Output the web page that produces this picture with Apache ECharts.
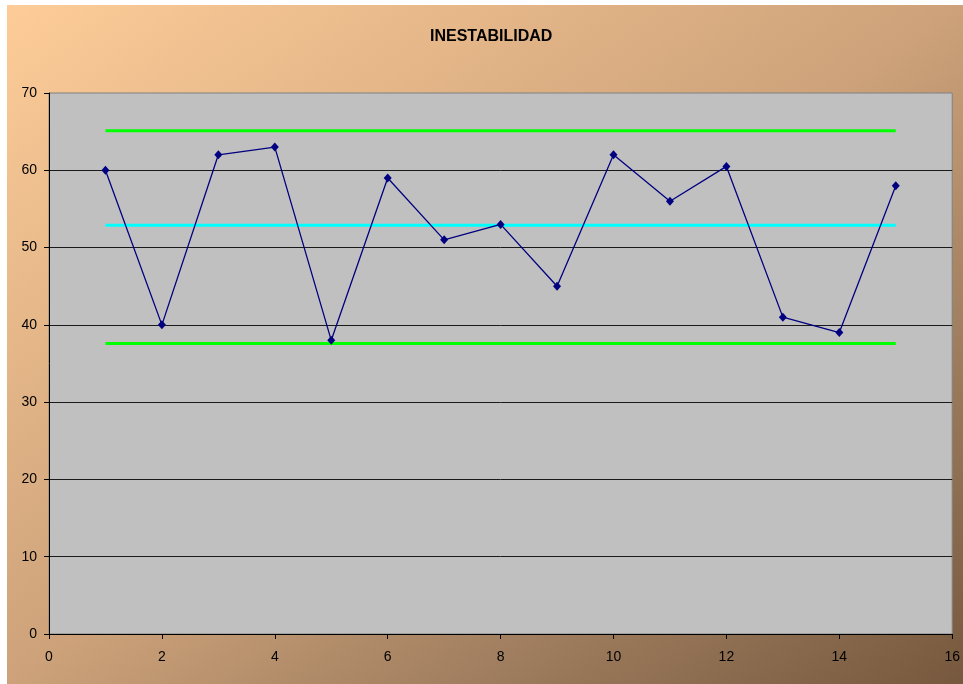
<!DOCTYPE html>
<html>
<head>
<meta charset="utf-8">
<script src="https://cdn.jsdelivr.net/npm/echarts@6/dist/echarts.min.js"></script>
<style>
  html, body { margin: 0; padding: 0; background: #ffffff; overflow: hidden; }
  #chart { position: absolute; left: 7px; top: 5px; width: 956px; height: 679px; }
</style>
</head>
<body>
<div id="chart"></div>
<script>
// Sample number and measured value
const samples = [1, 2, 3, 4, 5, 6, 7, 8, 9, 10, 11, 12, 13, 14, 15];
const values = [60, 40, 62, 63, 38, 59, 51, 53, 45, 62, 56, 60.5, 41, 39, 58];

// Control limits
const upperLimit = 65.1;
const centerLine = 52.9;
const lowerLimit = 37.6;

const xTicks = { min: 0, max: 16, interval: 2 };
const yTicks = { min: 0, max: 70, interval: 10 };

const chart = echarts.init(document.getElementById('chart'), null, { renderer: 'canvas' });

const firstX = samples[0];
const lastX = samples[samples.length - 1];
const limitLine = (v) => [[firstX, v], [lastX, v]];

const font = '"Liberation Sans", Arial, sans-serif';

chart.setOption({
  // diagonal fill whose bands run parallel to the box's anti-diagonal
  backgroundColor: {
    type: 'linear', x: 0, y: 0, x2: 0.6706, y2: 1.3294,
    colorStops: [
      { offset: 0, color: '#FDCC98' },
      { offset: 0.5, color: '#CDA27A' },
      { offset: 0.74, color: '#A07E5F' },
      { offset: 1, color: '#76583E' }
    ]
  },
  animation: false,
  graphic: [{
    type: 'text',
    left: 423,
    top: 24,
    style: {
      text: 'INESTABILIDAD',
      font: 'bold 16px ' + font,
      fill: '#000000'
    }
  }],
  grid: {
    left: 42, top: 88, right: 7, bottom: 50,
    show: true,
    backgroundColor: '#C0C0C0',
    borderColor: '#808080',
    borderWidth: 1
  },
  xAxis: {
    type: 'value',
    min: xTicks.min, max: xTicks.max, interval: xTicks.interval,
    axisLine: { show: true, onZero: false, lineStyle: { color: '#000000', width: 1 } },
    axisTick: { show: true, inside: false, length: 5, lineStyle: { color: '#000000' } },
    axisLabel: { color: '#000000', fontSize: 14, fontFamily: font, margin: 16 },
    splitLine: { show: false }
  },
  yAxis: {
    type: 'value',
    min: yTicks.min, max: yTicks.max, interval: yTicks.interval,
    axisLine: { show: true, lineStyle: { color: '#000000', width: 1 } },
    axisTick: { show: true, inside: false, length: 5, lineStyle: { color: '#000000' } },
    axisLabel: { color: '#000000', fontSize: 14, fontFamily: font, margin: 12 },
    splitLine: { show: true, showMaxLine: false, lineStyle: { color: '#1a1a1a', width: 1 } }
  },
  series: [
    {
      name: 'LSC', type: 'line', data: limitLine(upperLimit),
      symbol: 'none', lineStyle: { color: '#00FF00', width: 3 }, silent: true
    },
    {
      name: 'LC', type: 'line', data: limitLine(centerLine),
      symbol: 'none', lineStyle: { color: '#00FFFF', width: 3 }, silent: true
    },
    {
      name: 'LIC', type: 'line', data: limitLine(lowerLimit),
      symbol: 'none', lineStyle: { color: '#00FF00', width: 3 }, silent: true
    },
    {
      name: 'Inestabilidad', type: 'line',
      data: samples.map((s, i) => [s, values[i]]),
      symbol: 'diamond', symbolSize: [8, 9],
      itemStyle: { color: '#000080' },
      lineStyle: { color: '#000080', width: 1.3 }
    }
  ]
});
</script>
</body>
</html>
